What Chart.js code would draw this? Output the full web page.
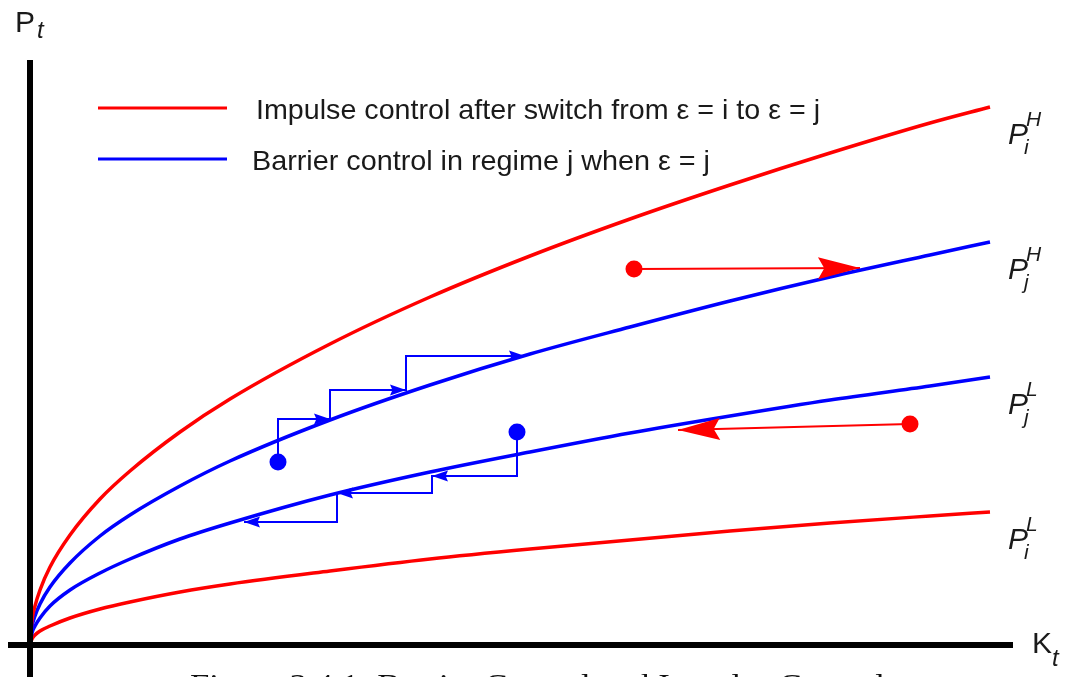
<!DOCTYPE html>
<html>
<head>
<meta charset="utf-8">
<title>Barrier Control and Impulse Control</title>
<script src="https://cdn.jsdelivr.net/npm/chart.js@4"></script>
<style>
  html, body { margin: 0; padding: 0; background: #fff; }
  #chart { display: block; }
</style>
</head>
<body>
<canvas id="chart" width="1067" height="677"></canvas>
<script>
// capital K on the horizontal axis, price P on the vertical one
const kGrid  = [0, 2, 5, 10, 20, 40, 70, 100, 150, 200, 300, 400, 500, 600, 700, 800, 900, 960];
const pHighI = [0, 25, 39, 55, 78, 110, 146, 174, 213, 246, 301, 348, 389, 426, 460, 492, 522, 538];
const pHighJ = [0, 18, 29, 41, 58, 82, 109, 130, 159, 184, 225, 260, 291, 318, 344, 368, 390, 403];
const pLowJ  = [0, 12, 19, 27, 39, 55, 72, 86, 106, 122, 150, 173, 193, 212, 229, 245, 259, 268];
const pLowI  = [0, 6, 10, 14, 19, 27, 36, 43, 53, 61, 74, 86, 96, 105, 114, 122, 129, 133];

// barrier control paths (staircases onto the blue boundaries)
const climbK = [248, 248, 300, 300, 376, 376, 495];
const climbP = [183, 226, 226, 255, 255, 289, 289];
const dropK  = [487, 487, 402, 402, 307, 307, 214];
const dropP  = [213, 169, 169, 152, 152, 123, 123];

// impulse control jumps after the regime switch
const jumpRightK = [604, 830];
const jumpRightP = [376, 377];
const jumpLeftK  = [880, 648];
const jumpLeftP  = [221, 215];

const legendTexts = [
    'Impulse control after switch from \u03b5 = i to \u03b5 = j',
    'Barrier control in regime j when \u03b5 = j'
];
const curveLabels = [
    { sup: 'H', sub: 'i' },
    { sup: 'H', sub: 'j' },
    { sup: 'L', sub: 'j' },
    { sup: 'L', sub: 'i' }
];
const caption = 'Figure 3.4.1: Barrier Control and Impulse Control';

const RED = '#ff0000';
const BLUE = '#0000ff';
const INK = '#1a1a1a';

const toPoints = (xs, ys) => xs.map((x, i) => ({ x: x, y: ys[i] }));

function curve(ys, color) {
    return {
        data: toPoints(kGrid, ys),
        showLine: true,
        borderColor: color,
        borderWidth: 3.5,
        pointRadius: 0,
        cubicInterpolationMode: 'monotone',
        fill: false
    };
}

function path(xs, ys, color) {
    return {
        data: toPoints(xs, ys),
        showLine: true,
        borderColor: color,
        borderWidth: 2,
        pointRadius: 0,
        tension: 0,
        fill: false
    };
}

function dots(points, color) {
    return {
        data: points,
        showLine: false,
        pointRadius: 8.5,
        pointBackgroundColor: color,
        pointBorderWidth: 0
    };
}

function arrowHead(ctx, x0, y0, x1, y1, len, half, color) {
    const a = Math.atan2(y1 - y0, x1 - x0);
    ctx.save();
    ctx.translate(x1, y1);
    ctx.rotate(a);
    ctx.fillStyle = color;
    ctx.beginPath();
    ctx.moveTo(0, 0);
    ctx.lineTo(-len, -half);
    ctx.lineTo(-len * 0.85, 0);
    ctx.lineTo(-len, half);
    ctx.closePath();
    ctx.fill();
    ctx.restore();
}

// draw text squeezed or stretched to a given width
function fitText(ctx, text, x, y, width) {
    const w = ctx.measureText(text).width;
    ctx.save();
    ctx.translate(x, y);
    ctx.scale(width / w, 1);
    ctx.fillText(text, 0, 0);
    ctx.restore();
}

const decorations = {
    id: 'decorations',
    afterDatasetsDraw(chart) {
        const ctx = chart.ctx;
        const xs = chart.scales.x, ys = chart.scales.y;
        const px = v => xs.getPixelForValue(v);
        const py = v => ys.getPixelForValue(v);

        // arrowheads on the barrier staircases (end of each horizontal run)
        [[climbK, climbP], [dropK, dropP]].forEach(([kx, ky]) => {
            for (let i = 2; i < kx.length; i += 2) {
                arrowHead(ctx, px(kx[i - 1]), py(ky[i - 1]), px(kx[i]), py(ky[i]), 16, 5.5, BLUE);
            }
        });
        // arrowheads on the impulse jumps
        [[jumpRightK, jumpRightP], [jumpLeftK, jumpLeftP]].forEach(([kx, ky]) => {
            arrowHead(ctx, px(kx[0]), py(ky[0]), px(kx[1]), py(ky[1]), 42, 11, RED);
        });

        // axes
        const ox = px(0), oy = py(0);
        ctx.save();
        ctx.strokeStyle = '#000';
        ctx.lineWidth = 6;
        ctx.beginPath();
        ctx.moveTo(ox, 60);
        ctx.lineTo(ox, chart.height);
        ctx.moveTo(8, oy);
        ctx.lineTo(1013, oy);
        ctx.stroke();

        ctx.fillStyle = INK;
        ctx.textBaseline = 'alphabetic';
        ctx.font = '30px "Liberation Sans", Arial, sans-serif';
        ctx.fillText('P', 15, 32);
        ctx.fillText('K', 1032, 653);
        ctx.font = 'italic 24px "Liberation Sans", Arial, sans-serif';
        ctx.fillText('t', 37, 38);
        ctx.fillText('t', 1052, 666);

        // legend
        const legendColors = [RED, BLUE];
        const legendY = [108, 159];
        const legendX = [256, 252];
        const legendW = [564, 458];
        legendTexts.forEach((t, i) => {
            ctx.strokeStyle = legendColors[i];
            ctx.lineWidth = 3;
            ctx.beginPath();
            ctx.moveTo(98, legendY[i]);
            ctx.lineTo(227, legendY[i]);
            ctx.stroke();
            ctx.fillStyle = INK;
            ctx.font = '28px "Liberation Sans", Arial, sans-serif';
            fitText(ctx, t, legendX[i], legendY[i] + 11, legendW[i]);
        });

        // curve names at the right-hand ends
        const ends = [pHighI, pHighJ, pLowJ, pLowI].map(a => a[a.length - 1]);
        const kEnd = kGrid[kGrid.length - 1];
        curveLabels.forEach((lab, i) => {
            const base = py(ends[i]) + 37;
            const x = px(kEnd) + 18;
            ctx.fillStyle = INK;
            ctx.font = 'italic 30px "Liberation Sans", Arial, sans-serif';
            ctx.fillText('P', x, base);
            ctx.font = 'italic 21px "Liberation Sans", Arial, sans-serif';
            ctx.fillText(lab.sup, x + 18, base - 18);
            ctx.fillText(lab.sub, x + 16, base + 10);
        });

        // figure caption, mostly below the visible area
        ctx.fillStyle = '#111';
        ctx.font = '30px "Liberation Serif", "Times New Roman", serif';
        fitText(ctx, caption, 190, 694, 695);
        ctx.restore();
    }
};

new Chart(document.getElementById('chart'), {
    type: 'scatter',
    data: {
        datasets: [
            curve(pHighI, RED),
            curve(pHighJ, BLUE),
            curve(pLowJ, BLUE),
            curve(pLowI, RED),
            path(climbK, climbP, BLUE),
            path(dropK, dropP, BLUE),
            path(jumpRightK, jumpRightP, RED),
            path(jumpLeftK, jumpLeftP, RED),
            dots([{ x: climbK[0], y: climbP[0] }, { x: dropK[0], y: dropP[0] }], BLUE),
            dots([{ x: jumpRightK[0], y: jumpRightP[0] }, { x: jumpLeftK[0], y: jumpLeftP[0] }], RED)
        ]
    },
    options: {
        responsive: false,
        animation: false,
        events: [],
        layout: { autoPadding: false, padding: { left: 30, right: 0, top: 0, bottom: 32 } },
        scales: {
            x: { type: 'linear', display: false, min: 0, max: 1037 },
            y: { type: 'linear', display: false, min: 0, max: 645 }
        },
        plugins: {
            legend: { display: false },
            tooltip: { enabled: false }
        }
    },
    plugins: [decorations]
});
</script>
</body>
</html>
